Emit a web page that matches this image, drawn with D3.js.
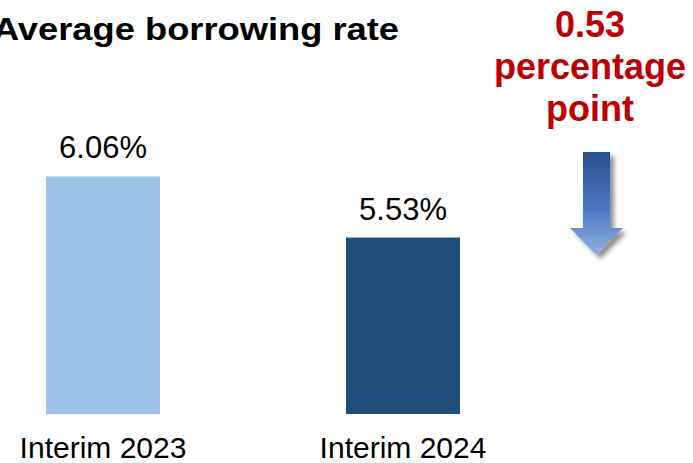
<!DOCTYPE html>
<html>
<head>
<meta charset="utf-8">
<script src="https://cdn.jsdelivr.net/npm/d3@7"></script>
<style>
  body { margin: 0; background: #fff; }
  svg { display: block; font-family: "Liberation Sans", Arial, sans-serif; }
</style>
</head>
<body>
<div id="chart"></div>
<script>
var categories = ["Interim 2023", "Interim 2024"];
var rates = [6.06, 5.53];
var barColors = ["#9dc3e6", "#1f4e79"];
var changeLines = ["0.53", "percentage", "point"];

var width = 693, height = 463;

var svg = d3.select("#chart")
  .append("svg")
    .attr("width", width)
    .attr("height", height);

// scales
var x = d3.scaleBand()
  .domain(categories)
  .range([-47, 553])
  .paddingInner(0.62)
  .paddingOuter(0.31);

var y = d3.scaleLinear()
  .domain([4, 7])
  .range([414, 68]);

// title (left edge is cut off in the original)
svg.append("text")
  .attr("x", -7)
  .attr("y", 40)
  .attr("font-size", 31)
  .attr("font-weight", "bold")
  .attr("fill", "#000")
  .attr("textLength", 406)
  .attr("lengthAdjust", "spacingAndGlyphs")
  .text("Average borrowing rate");

// bars
svg.selectAll(".bar")
  .data(rates)
  .enter()
  .append("rect")
    .attr("class", "bar")
    .attr("x", function(d, i) { return x(categories[i]); })
    .attr("y", function(d) { return y(d); })
    .attr("width", x.bandwidth())
    .attr("height", function(d) { return y(4) - y(d); })
    .attr("fill", function(d, i) { return barColors[i]; });

// value labels
svg.selectAll(".val")
  .data(rates)
  .enter()
  .append("text")
    .attr("class", "val")
    .attr("x", function(d, i) { return x(categories[i]) + x.bandwidth() / 2; })
    .attr("y", function(d) { return y(d) - 18; })
    .attr("text-anchor", "middle")
    .attr("font-size", 31)
    .attr("fill", "#000")
    .text(function(d) { return d.toFixed(2) + "%"; });

// category labels
svg.selectAll(".cat")
  .data(categories)
  .enter()
  .append("text")
    .attr("class", "cat")
    .attr("x", function(d) { return x(d) + x.bandwidth() / 2; })
    .attr("y", 458)
    .attr("text-anchor", "middle")
    .attr("font-size", 30)
    .attr("fill", "#000")
    .text(function(d) { return d; });

// change annotation
svg.selectAll(".chg")
  .data(changeLines)
  .enter()
  .append("text")
    .attr("class", "chg")
    .attr("x", 590)
    .attr("y", function(d, i) { return 37 + i * 42; })
    .attr("text-anchor", "middle")
    .attr("font-size", 36)
    .attr("font-weight", "bold")
    .attr("fill", "#c00000")
    .text(function(d) { return d; });

// arrow
var defs = svg.append("defs");
var grad = defs.append("linearGradient")
  .attr("id", "arrowGrad")
  .attr("x1", 0).attr("y1", 0).attr("x2", 0).attr("y2", 1);
grad.append("stop").attr("offset", "0%").attr("stop-color", "#2c4d8c");
grad.append("stop").attr("offset", "55%").attr("stop-color", "#4a78c6");
grad.append("stop").attr("offset", "100%").attr("stop-color", "#93b0e0");

var shadow = defs.append("filter")
  .attr("id", "shadow")
  .attr("x", "-30%").attr("y", "-30%")
  .attr("width", "160%").attr("height", "160%");
shadow.append("feGaussianBlur").attr("in", "SourceAlpha").attr("stdDeviation", 2.5).attr("result", "blur");
shadow.append("feOffset").attr("in", "blur").attr("dx", 4).attr("dy", 4).attr("result", "off");
shadow.append("feComponentTransfer").attr("in", "off").attr("result", "shadowFaded")
  .append("feFuncA").attr("type", "linear").attr("slope", 0.45);
var merge = shadow.append("feMerge");
merge.append("feMergeNode").attr("in", "shadowFaded");
merge.append("feMergeNode").attr("in", "SourceGraphic");

var arrowX = 596.5, arrowTop = 152, shaftW = 27, headW = 53, headY = 228, tipY = 255;
var arrowPts = [
  [arrowX - shaftW / 2, arrowTop], [arrowX + shaftW / 2, arrowTop], [arrowX + shaftW / 2, headY],
  [arrowX + headW / 2, headY], [arrowX, tipY], [arrowX - headW / 2, headY], [arrowX - shaftW / 2, headY]
];
svg.append("path")
  .attr("d", d3.line()(arrowPts) + "Z")
  .attr("fill", "url(#arrowGrad)")
  .attr("filter", "url(#shadow)");
</script>
</body>
</html>
